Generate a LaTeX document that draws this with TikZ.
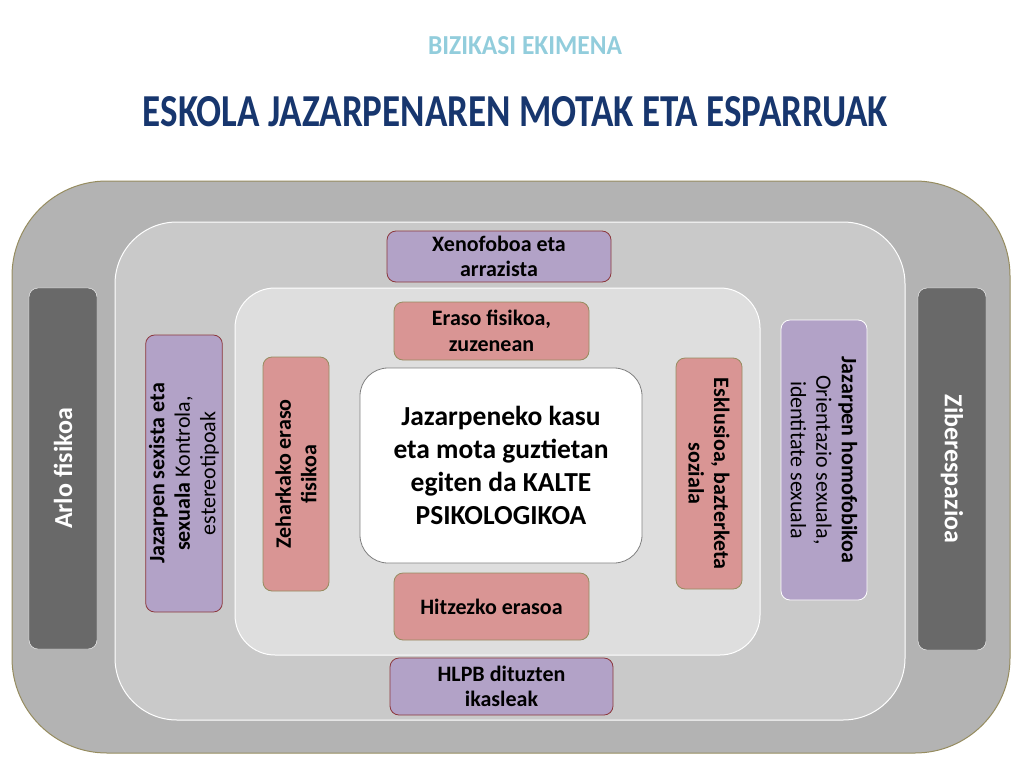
\documentclass[tikz,border=0pt]{standalone}
\usepackage{fontspec}
\setmainfont{Carlito}
\usepackage{xcolor}
\usepackage{tikz}
\usetikzlibrary{positioning, calc}

\definecolor{zonedark}{RGB}{179,179,179}
\definecolor{zonemid}{RGB}{201,201,201}
\definecolor{zonelight}{RGB}{222,222,222}
\definecolor{barfill}{RGB}{105,105,105}
\definecolor{lilac}{RGB}{178,162,199}
\definecolor{rose}{RGB}{217,149,148}
\definecolor{wine}{RGB}{140,55,60}
\definecolor{khaki}{RGB}{150,140,95}
\definecolor{navy}{RGB}{23,54,110}
\definecolor{skyblue}{RGB}{146,205,220}

\begin{document}
\begin{tikzpicture}[x=1pt, y=-1pt,
    zone/.style={rectangle, draw=white, line width=1pt},
    bar/.style={rectangle, rounded corners=9pt, draw=white, fill=barfill, text=white, font=\fontsize{26}{30}\selectfont\bfseries},
    violence/.style={rectangle, rounded corners=9pt, draw=khaki, fill=rose, line width=0.8pt, align=center, font=\fontsize{22}{25.5}\selectfont\bfseries},
    group/.style={rectangle, rounded corners=9pt, draw=wine, fill=lilac, line width=0.8pt, align=center, font=\fontsize{22}{25.5}\selectfont},
    core/.style={rectangle, rounded corners=28pt, draw=gray, fill=white, line width=0.8pt, align=center, font=\fontsize{27.5}{33}\selectfont\bfseries}]

    \useasboundingbox (0,0) rectangle (1024,768);

    % titles
    \node [inner sep=0pt, text=skyblue] (subtitle) at (525,46) {\resizebox{194pt}{18pt}{\bfseries BIZIKASI EKIMENA}};
    \node [inner sep=0pt, text=navy] (title) at (515.5,112) {\resizebox{745pt}{30pt}{\bfseries ESKOLA JAZARPENAREN MOTAK ETA ESPARRUAK}};

    % zones
    \node [zone, draw=khaki, fill=zonedark, rounded corners=95pt, minimum width=998pt, minimum height=572pt] (outer) at (511,467) {};
    \node [zone, fill=zonemid, rounded corners=62pt, minimum width=790pt, minimum height=498pt] (middle) at (510,471) {};
    \node [zone, fill=zonelight, rounded corners=40pt, minimum width=525pt, minimum height=367pt] (inner) at (497.5,471.5) {};

    % side bars
    \node [bar, rotate=90, minimum width=361pt, minimum height=68pt] (physical) at (63,468.5) {Arlo fisikoa};
    \node [bar, rotate=-90, minimum width=362pt, minimum height=68pt] (cyber) at (952,469) {Ziberespazioa};

    % centre
    \node [core, minimum width=282pt, minimum height=195pt] (harm) at (501,465.5) {Jazarpeneko kasu\\eta mota guztietan\\egiten da KALTE\\PSIKOLOGIKOA};

    % violence types
    \node [violence, minimum width=195pt, minimum height=58pt] (direct) at (491.5,331) {Eraso fisikoa,\\zuzenean};
    \node [violence, minimum width=195pt, minimum height=67pt] (verbal) at (491.5,606.5) {Hitzezko erasoa};
    \node [violence, rotate=90, minimum width=234pt, minimum height=66pt] (indirect) at (296,474) {Zeharkako eraso\\fisikoa};
    \node [violence, rotate=-90, minimum width=231pt, minimum height=66pt] (exclusion) at (709,473.5) {Esklusioa, bazterketa\\soziala};

    % groups
    \node [group, font=\fontsize{22}{25.5}\selectfont\bfseries, minimum width=224pt, minimum height=51pt] (xeno) at (499,256.5) {Xenofoboa eta\\arrazista};
    \node [group, font=\fontsize{22}{25.5}\selectfont\bfseries, minimum width=223pt, minimum height=57pt] (lgbt) at (501.5,686.5) {HLPB dituzten\\ikasleak};
    \node [group, rotate=90, minimum width=277pt, minimum height=70pt] (sexist) at (184,473.5) {\textbf{Jazarpen sexista eta}\\\textbf{sexuala} Kontrola,\\estereotipoak};
    \node [group, draw=white, rotate=-90, minimum width=280pt, minimum height=86pt] (homophobic) at (824,460) {\textbf{Jazarpen homofobikoa}\\Orientazio sexuala,\\identitate sexuala};
\end{tikzpicture}
\end{document}
